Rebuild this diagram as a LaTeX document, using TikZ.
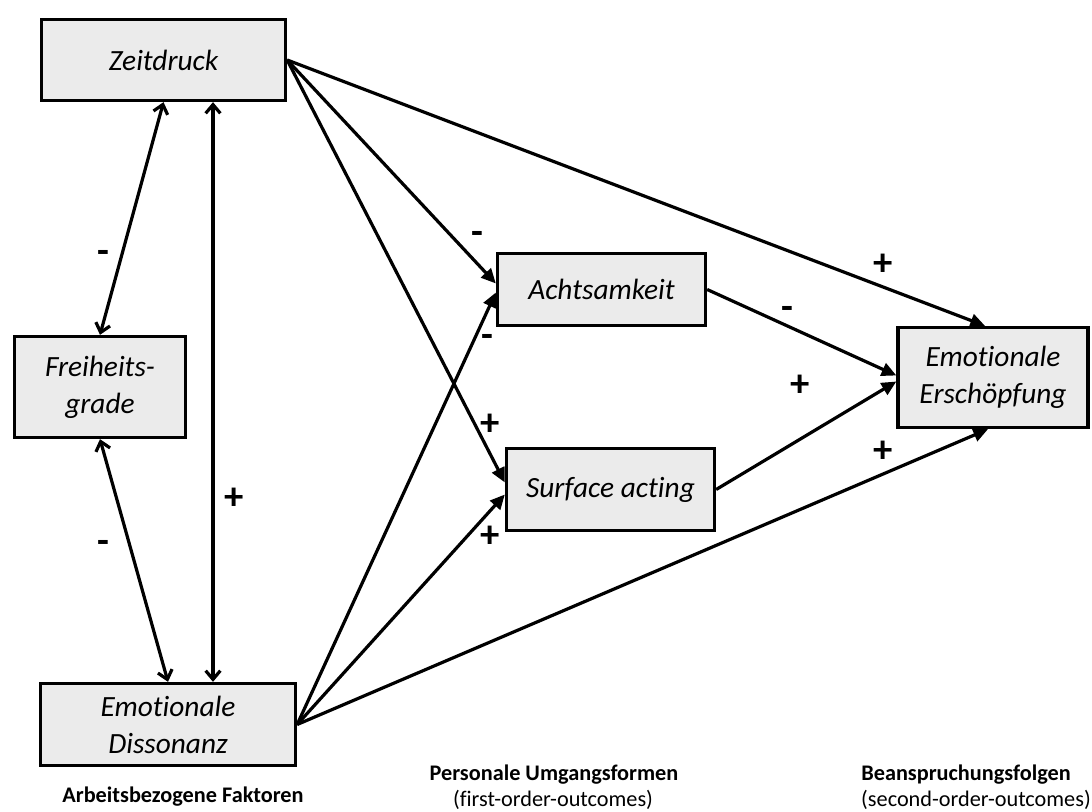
\documentclass[tikz,border=0pt]{standalone}
\usepackage{fontspec}
\setmainfont{Carlito}[Ligatures=NoCommon]
\usetikzlibrary{arrows.meta,calc}
\definecolor{boxgray}{HTML}{EBEBEB}
\begin{document}
\begin{tikzpicture}[x=0.75pt,y=-0.75pt,
 box/.style={draw=black, line width=2.5pt, fill=boxgray, align=center, inner sep=0pt, font=\fontsize{22}{27.75}\selectfont\itshape},
 arr/.style={line width=2.4pt, -{Triangle[length=11pt,width=10pt]}},
 dbl/.style={line width=2.4pt, {Straight Barb[length=6.5pt,width=11pt]}-{Straight Barb[length=6.5pt,width=11pt]}},
 sign/.style={font=\fontsize{29}{29}\selectfont\bfseries, inner sep=0pt},
 captext/.style={font=\fontsize{16.7}{18.75}\selectfont, inner sep=0pt},
 capbold/.style={font=\fontsize{16.7}{18.75}\selectfont\bfseries, inner sep=0pt}]
\useasboundingbox (0,0) rectangle (1092,812);

\node[box, minimum width=183pt, minimum height=60.75pt] (Z) at (163.5,60) {Zeitdruck};
\node[box, minimum width=128.25pt, minimum height=75.75pt] (F) at (100,387) {Freiheits-\\grade};
\node[box, minimum width=191.25pt, minimum height=61.5pt] (D) at (168,724.5) {Emotionale\\Dissonanz};
\node[box, minimum width=156pt, minimum height=54pt] (A) at (601.5,289.5) {Achtsamkeit};
\node[box, minimum width=156pt, minimum height=61.5pt] (S) at (610.5,489.5) {Surface acting};
\node[box, minimum width=142.5pt, minimum height=75pt] (E) at (993,377.5) {Emotionale\\Erschöpfung};

\draw[dbl] (Z.south) -- (F.north);
\draw[dbl] ($(Z.south)+(49.5,0)$) -- ($(D.north)+(45,0)$);
\draw[dbl] (F.south) -- (D.north);

\draw[arr] (Z.east) -- ($(A.west)+(0,-6)$);
\draw[arr] (Z.east) -- ($(S.west)+(0,-7)$);
\draw[arr] (Z.east) -- ($(E.north)+(-8,0)$);
\draw[arr] (D.east) -- ($(A.west)+(0,3)$);
\draw[arr] (D.east) -- ($(S.west)+(0,5)$);
\draw[arr] (D.east) -- ($(E.south)+(-5,0)$);
\draw[arr] (A.east) -- ($(E.west)+(0,-2)$);
\draw[arr] (S.east) -- ($(E.west)+(0,4)$);

\node[sign] (s1) at (103,257) {-};
\node[sign] (s2) at (234,499) {+};
\node[sign] (s3) at (103,547) {-};
\node[sign] (s4) at (477,238) {-};
\node[sign] (s5) at (490,425) {+};
\node[sign] (s6) at (487,341) {-};
\node[sign] (s7) at (490,537) {+};
\node[sign] (s8) at (883,265) {+};
\node[sign] (s9) at (883,452) {+};
\node[sign] (s10) at (787,313) {-};
\node[sign] (s11) at (800,386) {+};

\node[capbold] (c1) at (183,797) {Arbeitsbezogene Faktoren};
\node[capbold] (c2) at (554,775) {Personale Umgangsformen};
\node[captext] (c3) at (553,800) {(first-order-outcomes)};
\node[capbold] (c4) at (966,775) {Beanspruchungsfolgen};
\node[captext] (c5) at (976,800) {(second-order-outcomes)};
\end{tikzpicture}
\end{document}
